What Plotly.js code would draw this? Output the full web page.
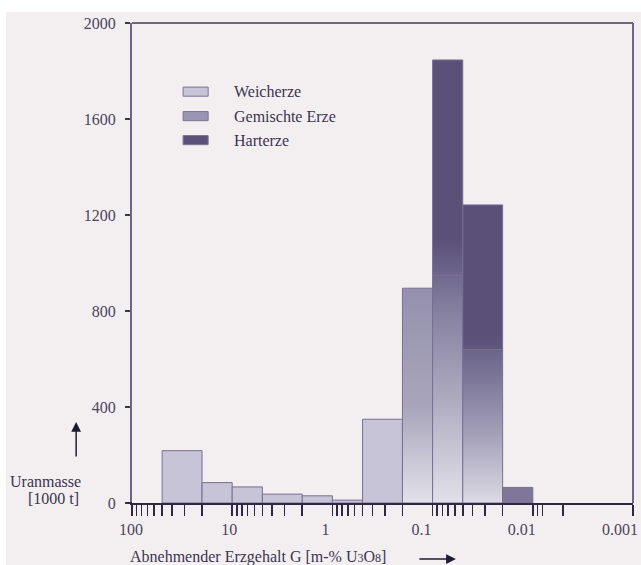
<!DOCTYPE html>
<html>
<head>
<meta charset="utf-8">
<script src="https://cdn.plot.ly/plotly-3.0.1.min.js"></script>
<style>
  html, body { margin: 0; padding: 0; background: #ffffff; }
  #plot { position: absolute; left: 6px; top: 12px; width: 635px; height: 553px; }
</style>
</head>
<body>
<div id="plot"></div>
<script>
// ---- Data ----
// Bin edges of ore grade G [m-% U3O8], decreasing
const binLow  = [50, 20, 10, 5, 2, 1, 0.5, 0.2, 0.1, 0.05, 0.02];
const binHigh = [20, 10, 5, 2, 1, 0.5, 0.2, 0.1, 0.05, 0.02, 0.01];
// Uranium mass [1000 t] per bin and ore type (stacked)
const weicherze      = [218, 85, 67, 37, 30, 12, 349, 0, 0, 0, 0];
const gemischteErze  = [0, 0, 0, 0, 0, 0, 0, 895, 949, 640, 0];
const harterze       = [0, 0, 0, 0, 0, 0, 0, 0, 897, 602, 65];
const seriesNames    = ['Weicherze', 'Gemischte Erze', 'Harterze'];

// Axis ticks
const xTickVals  = [100, 10, 1, 0.1, 0.01, 0.001];
const xTickText  = ['100', '10', '1', '0.1', '0.01', '0.001'];
const xMinorVals = [90, 80, 70, 60, 50, 40, 30, 20,
                    9, 8, 7, 6, 5, 4, 3, 2,
                    0.9, 0.8, 0.7, 0.6, 0.5, 0.4, 0.3, 0.2,
                    0.09, 0.08, 0.07, 0.06, 0.05, 0.04, 0.03, 0.02,
                    0.009, 0.008, 0.005];
const yTickVals  = [0, 400, 800, 1200, 1600, 2000];

// ---- Styles ----
const FONT = '"Liberation Serif", "DejaVu Serif", serif';
const TXT = '#3b3452';
const EDGE = '#777093';
const legendColors = ['#c6c4d6', '#9a96b1', '#5a5078'];
// labels are shifted left as a whole, then nudged back right with leading no-break spaces
const labelPad = [6, 5, 3, 1, 1, 0];

function segStyle(cat, i) {
  if (cat === 0) return { solid: '#c6c4d6' };
  if (cat === 1) {
    if (i === 7) return { scale: [[0, '#e3e1ea'], [0.45, '#a8a5bb'], [1, '#9591ad']] };
    if (i === 8) return { scale: [[0, '#e2e0e9'], [0.5, '#a9a6bc'], [0.85, '#857f9f'], [1, '#6f698d']] };
    if (i === 9) return { scale: [[0, '#dcdae4'], [0.45, '#a4a0b8'], [0.8, '#7d7899'], [1, '#6a6489']] };
    return { solid: '#9a96b1' };
  }
  if (cat === 2) {
    if (i === 8) return { scale: [[0, '#6e6789'], [0.17, '#5a5078'], [1, '#5a5078']] };
    if (i === 9) return { scale: [[0, '#5f567d'], [0.1, '#5a5078'], [1, '#5a5078']] };
    if (i === 10) return { solid: '#7e7799' };
    return { solid: '#5a5078' };
  }
}

const series = [weicherze, gemischteErze, harterze];
const traces = [];
for (let i = 0; i < binLow.length; i++) {
  let base = 0;
  for (let c = 0; c < series.length; c++) {
    const v = series[c][i];
    if (v > 0) {
      const top = base + v;
      const st = segStyle(c, i);
      const tr = {
        type: 'scatter', mode: 'lines',
        x: [binLow[i], binLow[i], binHigh[i], binHigh[i], binLow[i]],
        y: [base, top, top, base, base],
        fill: 'toself',
        line: { color: EDGE, width: 1 },
        name: seriesNames[c],
        showlegend: false, hoverinfo: 'skip'
      };
      if (st.solid) tr.fillcolor = st.solid;
      else tr.fillgradient = { type: 'vertical', colorscale: st.scale, start: base, stop: top };
      traces.push(tr);
      base = top;
    }
  }
}

// manual legend (paper coords)
const legRows = [0.857, 0.806, 0.756];
const shapes = [
  { type: 'line', xref: 'paper', yref: 'paper', x0: 0, x1: 1, y0: 1, y1: 1, line: { color: '#6d6587', width: 2 } },
  { type: 'line', xref: 'paper', yref: 'paper', x0: 1, x1: 1, y0: 0, y1: 1, line: { color: '#6d6587', width: 2 } },
  { type: 'line', xref: 'paper', yref: 'paper', x0: -0.009, x1: 0, y0: 0, y1: 0, line: { color: '#2e2843', width: 2 } }
];
const annotations = [];
seriesNames.forEach((n, k) => {
  shapes.push({ type: 'rect', xref: 'paper', yref: 'paper', x0: 0.102, x1: 0.152,
    y0: legRows[k] - 0.0095, y1: legRows[k] + 0.0095,
    fillcolor: legendColors[k], line: { color: '#7a7396', width: 1 } });
  annotations.push({ xref: 'paper', yref: 'paper', x: 0.200, y: legRows[k], xanchor: 'left', yanchor: 'middle',
    text: n, showarrow: false, font: { family: FONT, size: 16, color: TXT } });
});
// y title + arrow
annotations.push({ xref: 'paper', yref: 'paper', x: -0.098, y: 0.044, xanchor: 'right', yanchor: 'middle',
  text: 'Uranmasse', showarrow: false, font: { family: FONT, size: 16, color: TXT } });
annotations.push({ xref: 'paper', yref: 'paper', x: -0.102, y: 0.010, xanchor: 'right', yanchor: 'middle',
  text: '[1000 t]', showarrow: false, font: { family: FONT, size: 16, color: TXT } });
annotations.push({ xref: 'paper', yref: 'paper', x: -0.1115, y: 0.169, ax: 0, ay: 36, text: '',
  showarrow: true, arrowhead: 2, arrowsize: 1.3, arrowwidth: 1.5, arrowcolor: '#1e1a35' });
// x title + arrow
annotations.push({ xref: 'paper', yref: 'paper', x: -0.008, y: -0.1125, xanchor: 'left', yanchor: 'middle',
  text: 'Abnehmender Erzgehalt G [m-% U<span style="font-size:12px">3</span>O<span style="font-size:12px">8</span>]',
  showarrow: false, font: { family: FONT, size: 16, color: TXT } });
annotations.push({ xref: 'paper', yref: 'paper', x: 0.6465, y: -0.1167, ax: -38, ay: 0, text: '',
  showarrow: true, arrowhead: 2, arrowsize: 1.3, arrowwidth: 1.5, arrowcolor: '#1e1a35' });

const layout = {
  width: 635, height: 553,
  margin: { l: 126, r: 8, t: 11, b: 62 },
  paper_bgcolor: '#f3eff0', plot_bgcolor: '#f3eff0',
  showlegend: false,
  xaxis: {
    type: 'log', range: [2, -3],
    showline: true, linecolor: '#2e2843', linewidth: 2,
    showgrid: false, zeroline: false,
    tickmode: 'array', tickvals: xTickVals,
    ticktext: xTickText.map((t, i) => '\u00a0'.repeat(labelPad[i]) + t),
    ticks: 'outside', ticklen: 11, tickwidth: 1.5, tickcolor: '#2e2843',
    ticklabelshift: 13,
    minor: { tickmode: 'array', tickvals: xMinorVals, ticks: 'outside', ticklen: 11, tickwidth: 1.5, tickcolor: '#2e2843', showgrid: false },
    tickfont: { family: FONT, size: 16, color: '#4a4460' }
  },
  yaxis: {
    range: [0, 2000],
    showline: true, linecolor: '#6d6587', linewidth: 2,
    showgrid: false, zeroline: false,
    tickmode: 'array', tickvals: yTickVals,
    ticks: 'outside', ticklen: 5, tickwidth: 1.5, tickcolor: '#3b3452',
    ticklabelstandoff: 6,
    tickfont: { family: FONT, size: 16, color: '#4a4460' }
  },
  shapes: shapes,
  annotations: annotations,
  hovermode: false
};

Plotly.newPlot('plot', traces, layout, { staticPlot: true, displayModeBar: false });
</script>
</body>
</html>
